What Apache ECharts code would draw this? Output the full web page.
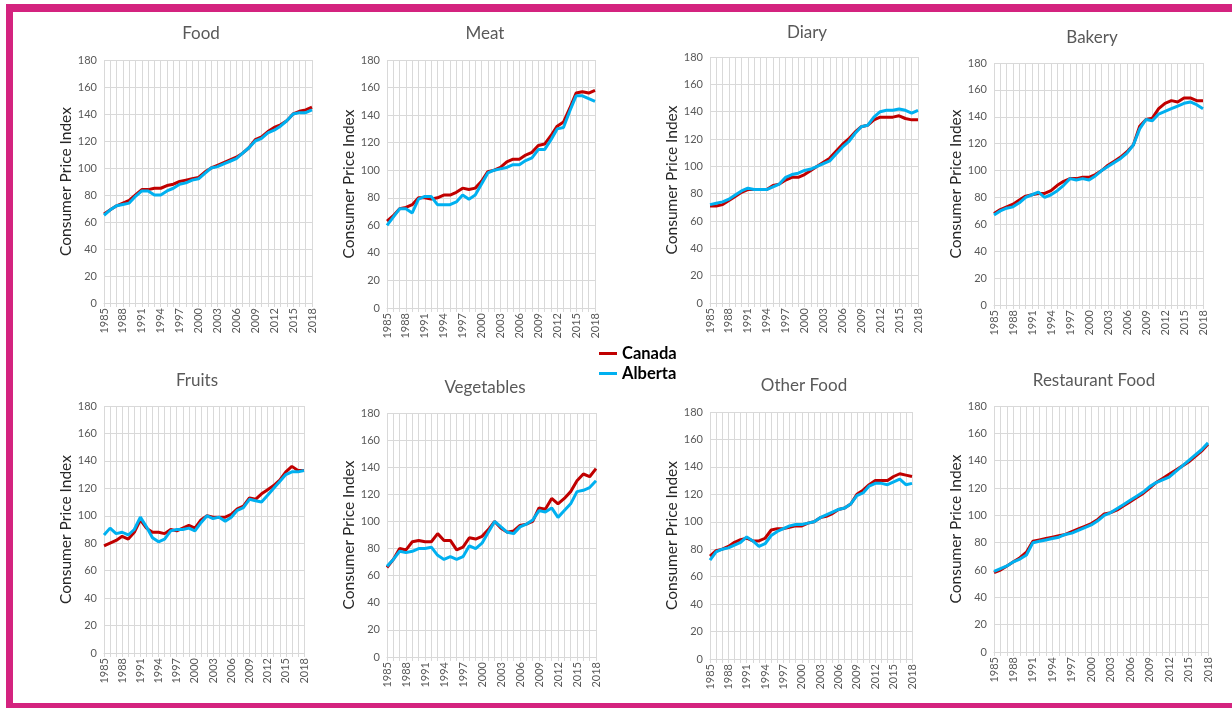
<!DOCTYPE html>
<html>
<head>
<meta charset="utf-8">
<script src="https://cdn.jsdelivr.net/npm/echarts@6/dist/echarts.min.js"></script>
<style>
html,body{margin:0;padding:0;background:#fff;overflow:hidden;width:1232px;height:708px;}
#frame{position:absolute;left:6px;top:4px;width:1250px;height:691px;border-top:8px solid #D4237F;border-left:7px solid #D4237F;border-bottom:8px solid #D4237F;}
#chart{position:absolute;left:0;top:0;width:1232px;height:708px;}
</style>
</head>
<body>
<div id="frame"></div>
<div id="chart"></div>
<script>
const years = [];
for (let y = 1985; y <= 2018; y++) years.push(String(y));

const panelTitles = ['Food','Meat','Diary','Bakery','Fruits','Vegetables','Other Food','Restaurant Food'];

const foodCanada   = [66,69,72,74,76,80,84,84,85,85,87,88,90,91,92,93,97,100,102,104,106,108,111,115,121,123,127,130,132,135,140,142,143,145];
const foodAlberta  = [65,69,72,73,74,79,83,83,80,80,83,85,88,89,91,92,96,100,101,103,105,107,111,115,120,122,126,128,131,135,140,141,141,143];
const meatCanada   = [63,67,72,73,75,80,80,79,80,82,82,84,87,86,87,92,99,100,102,106,108,108,111,113,118,119,125,132,135,145,156,157,156,158];
const meatAlberta  = [60,66,72,72,69,79,81,81,75,75,75,77,82,79,82,90,98,100,101,102,104,104,107,109,115,115,122,130,131,143,154,154,152,150];
const diaryCanada  = [71,71,72,75,78,81,83,83,83,83,86,87,90,92,92,94,97,100,103,106,111,116,120,125,129,130,134,136,136,136,137,135,134,134];
const diaryAlberta = [72,73,74,76,79,82,84,83,83,83,85,87,92,94,95,97,98,100,102,104,109,114,118,124,129,130,136,140,141,141,142,141,139,141];
const bakeryCanada = [68,71,73,75,78,81,82,83,83,85,89,92,94,94,95,95,97,100,104,107,110,114,119,133,138,139,146,150,152,151,154,154,152,152];
const bakeryAlberta= [67,70,72,73,76,80,82,84,80,82,85,89,94,93,94,93,96,100,103,106,109,113,119,131,138,137,142,144,146,148,150,151,149,146];
const fruitsCanada = [78,80,82,85,83,88,97,91,88,88,87,90,89,91,93,91,97,100,99,99,99,101,105,107,113,112,116,119,122,126,132,136,133,133];
const fruitsAlberta= [86,91,87,88,86,90,99,92,84,81,83,89,90,90,91,89,95,100,98,99,96,99,104,106,112,111,110,115,120,125,130,132,132,133];
const vegCanada    = [66,72,80,79,85,86,85,85,91,86,86,79,81,88,87,89,94,100,95,92,93,97,98,100,110,109,117,113,117,122,130,135,133,139];
const vegAlberta   = [67,72,78,77,78,80,80,81,75,72,74,72,74,82,80,84,92,100,96,92,91,96,98,101,108,107,110,103,108,113,122,123,125,130];
const otherCanada  = [75,79,80,82,85,87,88,86,86,88,94,95,95,96,97,97,99,100,103,104,106,109,110,113,120,123,127,130,130,130,133,135,134,133];
const otherAlberta = [72,78,80,81,83,85,89,86,82,84,90,93,95,97,98,98,99,100,103,105,107,109,110,113,119,121,126,128,128,127,129,131,127,128];
const restCanada   = [58,60,63,66,69,73,81,82,83,84,85,86,88,90,92,94,97,101,102,104,107,110,113,116,120,124,127,130,133,136,139,143,147,152];
const restAlberta  = [59,61,63,66,68,71,80,81,82,83,84,86,87,89,91,93,96,100,102,105,108,111,114,117,121,124,126,128,132,136,140,144,148,153];

const canadaSets  = [foodCanada, meatCanada, diaryCanada, bakeryCanada, fruitsCanada, vegCanada, otherCanada, restCanada];
const albertaSets = [foodAlberta, meatAlberta, diaryAlberta, bakeryAlberta, fruitsAlberta, vegAlberta, otherAlberta, restAlberta];

// plot area boxes [left, top, width, height] and title centre [x, y]
const boxes = [
  [104, 60, 208, 243], [387, 60, 208, 248], [710, 57, 208, 246], [994, 63, 209, 242],
  [104, 406, 200, 247], [387, 413, 209, 244], [710, 412, 202, 247], [994, 406, 214, 246]
];
const titlePos = [[196,32],[480,32],[802,31],[1087,36],[192,379],[480,386],[799,384],[1089,379]];

const FONT = 'Lato, "Open Sans", sans-serif';
const GRID_C = '#D9D9D9';

const grids = [], xAxes = [], yAxes = [], titles = [], series = [];
boxes.forEach((b, i) => {
  grids.push({left: b[0], top: b[1], width: b[2], height: b[3], containLabel: false});
  titles.push({
    text: panelTitles[i], left: titlePos[i][0], top: titlePos[i][1] - 12, textAlign: 'center',
    textStyle: {fontFamily: FONT, fontSize: 17, fontWeight: 'normal', color: '#595959'}
  });
  xAxes.push({
    type: 'category', gridIndex: i, data: years, boundaryGap: false,
    axisLine: {show: true, lineStyle: {color: GRID_C}},
    axisTick: {show: true, interval: 0, length: 4, lineStyle: {color: GRID_C}},
    axisLabel: {interval: 2, rotate: 90, margin: 5, fontFamily: FONT, fontSize: 11, color: '#595959'},
    splitLine: {show: true, interval: 0, lineStyle: {color: GRID_C, width: 1}}
  });
  yAxes.push({
    type: 'value', gridIndex: i, min: 0, max: 180, interval: 20,
    name: 'Consumer Price Index', nameLocation: 'middle', nameGap: 30, nameRotate: 90,
    nameTextStyle: {fontFamily: FONT, fontSize: 15.5, color: '#262626'},
    axisLine: {show: false}, axisTick: {show: false},
    axisLabel: {margin: 7, fontFamily: FONT, fontSize: 11, color: '#595959'},
    splitLine: {show: true, lineStyle: {color: GRID_C, width: 1}}
  });
  series.push({
    name: 'Canada', type: 'line', xAxisIndex: i, yAxisIndex: i, data: canadaSets[i],
    showSymbol: false, lineStyle: {color: '#C00000', width: 3}, itemStyle: {color: '#C00000'}, animation: false
  });
  series.push({
    name: 'Alberta', type: 'line', xAxisIndex: i, yAxisIndex: i, data: albertaSets[i],
    showSymbol: false, lineStyle: {color: '#00B0F0', width: 3}, itemStyle: {color: '#00B0F0'}, animation: false
  });
});

const chart = echarts.init(document.getElementById('chart'), null, {renderer: 'canvas'});
chart.setOption({
  backgroundColor: 'transparent',
  animation: false,
  title: titles,
  grid: grids,
  xAxis: xAxes,
  yAxis: yAxes,
  series: series,
  legend: {
    data: ['Canada', 'Alberta'], orient: 'vertical', left: 594, top: 340,
    icon: 'rect', itemWidth: 18, itemHeight: 3, itemGap: 3,
    textStyle: {fontFamily: FONT, fontSize: 16.5, fontWeight: 'bold', color: '#000'}
  }
});
</script>
</body>
</html>
